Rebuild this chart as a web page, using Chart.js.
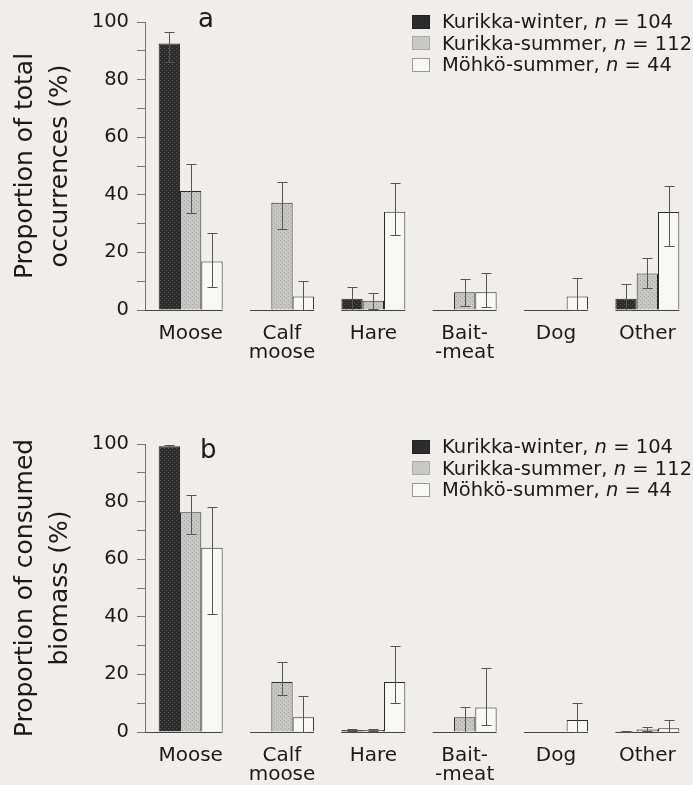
<!DOCTYPE html>
<html>
<head>
<meta charset="utf-8">
<script src="https://cdn.jsdelivr.net/npm/chart.js@4"></script>
<style>
  html, body { margin: 0; padding: 0; background: #efeeeb; }
  #wrap { position: relative; width: 693px; height: 785px; font-family: "DejaVu Sans", sans-serif; color: #1a1a1a; }
  canvas { position: absolute; left: 0; }
  .tag { position: absolute; font-size: 26px; line-height: 26px; }
  .legend { position: absolute; left: 412px; font-size: 19.5px; line-height: 21.5px; }
  .legend .row { display: flex; align-items: center; white-space: nowrap; }
  .legend .box { width: 18px; height: 14px; margin-right: 12px; box-sizing: border-box; }
</style>
</head>
<body>
<div id="wrap">
  <canvas id="chartA" width="693" height="392" style="top:0"></canvas>
  <canvas id="chartB" width="693" height="393" style="top:392px"></canvas>
  <div class="tag" style="left:198px;top:5px">a</div>
  <div class="tag" style="left:200px;top:436px">b</div>
  <div class="legend" id="legendA" style="top:11px"></div>
  <div class="legend" id="legendB" style="top:436px"></div>
</div>
<script>
(function () {

    // data
    const categories = ['Moose', ['Calf', 'moose'], 'Hare', ['Bait-', '-meat'], 'Dog', 'Other'];
    const seriesNames = ['Kurikka-winter', 'Kurikka-summer', 'Möhkö-summer'];
    const sampleSizes = [104, 112, 44];
    const yTicks = [0, 20, 40, 60, 80, 100];

    // a: proportion of total occurrences (%)
    const occWinter   = [92.5, 0, 3.9, 0, 0, 3.9];
    const occWinterHi = [96.7, null, 8, null, null, 9];
    const occWinterLo = [86, null, 0, null, null, 0];
    const occSummer   = [41.3, 37.2, 3.2, 6.2, 0, 12.7];
    const occSummerHi = [50.6, 44.4, 5.9, 10.7, null, 18];
    const occSummerLo = [33.6, 28, 0.5, 1.5, null, 7.6];
    const occMohko    = [16.8, 4.7, 34.1, 6.2, 4.7, 34];
    const occMohkoHi  = [26.9, 9.9, 44, 13, 11.1, 43];
    const occMohkoLo  = [8, 0, 26, 1, 0, 22.3];

    // b: proportion of consumed biomass (%)
    const bioWinter   = [99.2, 0, 0.7, 0, 0, 0.3];
    const bioWinterHi = [99.6, null, 1, null, null, 0.5];
    const bioWinterLo = [99, null, 0.4, null, null, 0.1];
    const bioSummer   = [76.3, 17.4, 0.7, 5.1, 0, 0.9];
    const bioSummerHi = [82.4, 24.2, 1.2, 8.8, null, 1.8];
    const bioSummerLo = [68.6, 12.7, 0.3, 0, null, 0.3];
    const bioMohko    = [64, 5.1, 17.4, 8.5, 4.2, 1.3];
    const bioMohkoHi  = [78.1, 12.4, 30, 22.2, 10.2, 4.2];
    const bioMohkoLo  = [41, 0, 10, 2.5, 0, 0];

    const FONT = '"DejaVu Sans", sans-serif';
    const INK = '#1a1a1a';

    function makePattern(base, dots) {
        const c = document.createElement('canvas');
        c.width = 4; c.height = 4;
        const g = c.getContext('2d');
        g.fillStyle = base;
        g.fillRect(0, 0, 4, 4);
        g.fillStyle = dots;
        g.fillRect(0, 0, 1, 1);
        g.fillRect(2, 2, 1, 1);
        return g.createPattern(c, 'repeat');
    }
    const fills = [makePattern('#2c2c2c', '#555'), makePattern('#c6c6c4', '#a4a4a2'), '#f8f8f6'];

    // whiskers drawn through the y scale
    const errorBars = {
        id: 'errorBars',
        afterDatasetsDraw(chart) {
            const ctx = chart.ctx, y = chart.scales.y;
            ctx.save();
            ctx.strokeStyle = '#555';
            ctx.lineWidth = 1;
            chart.data.datasets.forEach((ds, i) => {
                chart.getDatasetMeta(i).data.forEach((bar, j) => {
                    const hi = ds.errHi[j], lo = ds.errLo[j];
                    if (hi == null) return;
                    const x = Math.round(bar.x) + 0.5;
                    const yh = Math.round(y.getPixelForValue(hi)) + 0.5;
                    const yl = Math.round(y.getPixelForValue(lo)) + 0.5;
                    ctx.beginPath();
                    ctx.moveTo(x, yh); ctx.lineTo(x, yl);
                    ctx.moveTo(x - 5, yh); ctx.lineTo(x + 5, yh);
                    ctx.moveTo(x - 5, yl); ctx.lineTo(x + 5, yl);
                    ctx.stroke();
                });
            });
            ctx.restore();
        }
    };

    // zero line only under each group of bars
    const baseLine = {
        id: 'baseLine',
        beforeDatasetsDraw(chart) {
            const ctx = chart.ctx, y0 = Math.round(chart.scales.y.getPixelForValue(0)) + 0.5;
            const first = chart.getDatasetMeta(0).data, last = chart.getDatasetMeta(2).data;
            ctx.save();
            ctx.strokeStyle = '#444';
            ctx.lineWidth = 1;
            ctx.beginPath();
            first.forEach((bar, j) => {
                const xs = j === 0 ? chart.chartArea.left : bar.x - bar.width / 2;
                const xe = last[j].x + last[j].width / 2;
                ctx.moveTo(xs, y0); ctx.lineTo(xe, y0);
            });
            ctx.stroke();
            ctx.restore();
        }
    };

    function buildChart(id, values, his, los, title, top, bottomH) {
        const datasets = values.map((v, i) => ({
            label: seriesNames[i],
            data: v,
            errHi: his[i],
            errLo: los[i],
            backgroundColor: fills[i],
            borderColor: '#2a2a2a',
            borderWidth: 1
        }));
        return new Chart(document.getElementById(id), {
            type: 'bar',
            data: { labels: categories, datasets },
            plugins: [baseLine, errorBars],
            options: {
                responsive: false,
                animation: false,
                layout: { padding: { top: top, left: 0, right: 0, bottom: 0 } },
                plugins: { legend: { display: false }, tooltip: { enabled: false } },
                datasets: { bar: { categoryPercentage: 0.7, barPercentage: 1.0 } },
                scales: {
                    x: {
                        grid: { display: false },
                        border: { display: false },
                        ticks: { color: INK, padding: 6, maxRotation: 0, font: { family: FONT, size: 20, lineHeight: 0.95 } },
                        afterFit(s) { s.height = bottomH; }
                    },
                    y: {
                        min: 0,
                        max: 100,
                        ticks: {
                            stepSize: 10,
                            color: INK,
                            padding: 8,
                            font: { family: FONT, size: 19.5 },
                            callback: v => yTicks.includes(v) ? v : ''
                        },
                        grid: { drawOnChartArea: false, drawTicks: true, tickLength: 8, color: '#777' },
                        border: { display: true, color: '#777' },
                        title: {
                            display: true,
                            text: title,
                            color: INK,
                            padding: { top: 8, bottom: 0 },
                            font: { family: FONT, size: 25, lineHeight: 1.4 }
                        },
                        afterFit(s) { s.width = 145; }
                    }
                }
            }
        });
    }

    buildChart('chartA',
        [occWinter, occSummer, occMohko],
        [occWinterHi, occSummerHi, occMohkoHi],
        [occWinterLo, occSummerLo, occMohkoLo],
        ['Proportion of total', 'occurrences (%)'], 22, 82);

    buildChart('chartB',
        [bioWinter, bioSummer, bioMohko],
        [bioWinterHi, bioSummerHi, bioMohkoHi],
        [bioWinterLo, bioSummerLo, bioMohkoLo],
        ['Proportion of consumed', 'biomass (%)'], 52, 53);

    // html legend
    const boxStyle = [
        'background:#2c2c2c;border:1px solid #222',
        'background:#c8c8c6;border:1px solid #aaa',
        'background:#f8f8f6;border:1px solid #999'
    ];
    ['legendA', 'legendB'].forEach(id => {
        document.getElementById(id).innerHTML = seriesNames.map((name, i) =>
            '<div class="row"><span class="box" style="' + boxStyle[i] + '"></span>' +
            name + ', <i>&nbsp;n</i>&nbsp;= ' + sampleSizes[i] + '</div>').join('');
    });
})();
</script>
</body>
</html>
